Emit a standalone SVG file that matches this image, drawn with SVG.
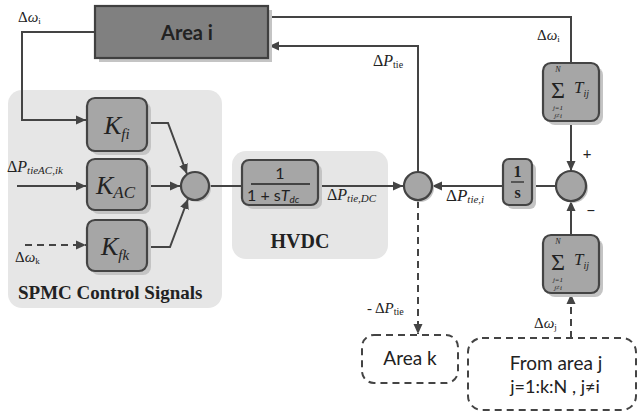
<svg xmlns="http://www.w3.org/2000/svg" width="640" height="412" viewBox="0 0 640 412">
<style>
.bg{fill:#e6e6e6;stroke:none}
.blk{fill:#a6a6a6;stroke:#444;stroke-width:2.2}
.shd{fill:#c4c4c4;stroke:none}
.sum{fill:#a6a6a6;stroke:#444;stroke-width:2.2}
.ln{fill:none;stroke:#444;stroke-width:2}
.dash{fill:none;stroke:#444;stroke-width:2;stroke-dasharray:7,5}
.sn{font-family:Lato,"Liberation Sans",sans-serif;fill:#222}
.sr{font-family:"Liberation Serif","Times New Roman",Tinos,"DejaVu Serif","Noto Serif",Times,serif;fill:#222}
</style>
<defs>
<marker id="ah" markerUnits="userSpaceOnUse" markerWidth="11" markerHeight="10" refX="10" refY="5" orient="auto">
<path d="M0,0.5 L10,5 L0,9.5 z" fill="#444"/>
</marker>
</defs>

<rect class="bg" x="8" y="90" width="214" height="218" rx="14"/>
<rect class="bg" x="232" y="151" width="156" height="108" rx="14"/>

<g id="connectors">
<path class="ln" d="M268,17 H571 V63"/>
<path class="ln" d="M571,121 V171" marker-end="url(#ah)"/>
<path class="ln" d="M571,235 V201" marker-end="url(#ah)"/>
<path class="ln" d="M556,186 H532"/>
<path class="ln" d="M503,186 H432" marker-end="url(#ah)"/>
<path class="ln" d="M418,172 V46 H269" marker-end="url(#ah)"/>
<path class="ln" d="M318,186 H403" marker-end="url(#ah)"/>
<path class="ln" d="M209,186 H242"/>
<path class="ln" d="M147,186 H180" marker-end="url(#ah)"/>
<path class="ln" d="M147,123 H168 L187,174" marker-end="url(#ah)"/>
<path class="ln" d="M147,247 H170 L188,199" marker-end="url(#ah)"/>
<path class="ln" d="M95,32 H22 V120 H86" marker-end="url(#ah)"/>
<path class="ln" d="M17,186 H86" marker-end="url(#ah)"/>
<path class="dash" d="M25,245 H86" marker-end="url(#ah)"/>
<path class="dash" d="M418,201 V334" marker-end="url(#ah)"/>
<path class="dash" d="M571,338 V294" marker-end="url(#ah)"/>
</g>

<g id="area-i">
<rect class="shd" x="99" y="10" width="173" height="52"/>
<rect x="95" y="6" width="173" height="52" fill="#808080" stroke="#404040" stroke-width="2.2"/>
<text class="sn" x="187" y="40" font-size="20" font-weight="bold" text-anchor="middle">Area i</text>
</g>

<g id="kfi">
<rect class="shd" x="91" y="102" width="60" height="53" rx="8"/>
<rect class="blk" x="87" y="98" width="60" height="53" rx="8"/>
<text class="sr" x="104" y="134" font-size="26" font-style="italic">K<tspan font-size="15" dy="5">fi</tspan></text>
</g>

<g id="kac">
<rect class="shd" x="91" y="163" width="60" height="51" rx="8"/>
<rect class="blk" x="87" y="159" width="60" height="51" rx="8"/>
<text class="sr" x="96" y="194" font-size="26" font-style="italic">K<tspan font-size="17" dy="4">AC</tspan></text>
</g>

<g id="kfk">
<rect class="shd" x="91" y="224" width="60" height="51" rx="8"/>
<rect class="blk" x="87" y="220" width="60" height="51" rx="8"/>
<text class="sr" x="101" y="255" font-size="26" font-style="italic">K<tspan font-size="15" dy="5">fk</tspan></text>
</g>

<g id="sum1">
<circle cx="197" cy="188" r="14" class="shd"/>
<circle cx="195" cy="186" r="14" class="sum"/>
</g>

<g id="hvdc-tf">
<rect class="shd" x="246" y="164" width="76" height="45" rx="7"/>
<rect class="blk" x="242" y="160" width="76" height="45" rx="7"/>
<text class="sn" x="280" y="179" font-size="16" text-anchor="middle">1</text>
<line x1="251" y1="184" x2="310" y2="184" stroke="#222" stroke-width="1.3"/>
<text class="sn" x="247" y="201" font-size="16">1 + s<tspan font-style="italic">T</tspan><tspan font-size="10" dy="2" font-style="italic">dc</tspan></text>
</g>

<g id="sum2">
<circle cx="420" cy="188" r="14" class="shd"/>
<circle cx="418" cy="186" r="14" class="sum"/>
</g>

<g id="integrator">
<rect class="shd" x="507" y="163" width="29" height="46" rx="6"/>
<rect class="blk" x="503" y="159" width="29" height="46" rx="6"/>
<text class="sr" x="517.5" y="177" font-size="16" font-weight="bold" text-anchor="middle">1</text>
<line x1="511" y1="182" x2="524" y2="182" stroke="#222" stroke-width="1.2"/>
<text class="sr" x="517.5" y="198" font-size="16" font-weight="bold" text-anchor="middle">s</text>
</g>

<g id="sum3">
<circle cx="573" cy="188" r="15" class="shd"/>
<circle cx="571" cy="186" r="15" class="sum"/>
</g>

<g id="sigma-top">
<rect class="shd" x="547" y="67" width="56" height="58" rx="8"/>
<rect class="blk" x="543" y="63" width="56" height="58" rx="8"/>
<text class="sr" x="558" y="72" font-size="8" font-style="italic" text-anchor="middle">N</text>
<text class="sr" x="558" y="98" font-size="24" text-anchor="middle">Σ</text>
<text class="sr" x="558" y="110" font-size="7" font-style="italic" text-anchor="middle">j=1</text>
<text class="sr" x="558" y="118" font-size="7" font-style="italic" text-anchor="middle">j≠i</text>
<text class="sr" x="574" y="93" font-size="17" font-style="italic">T<tspan font-size="10" dy="4">ij</tspan></text>
</g>

<g id="sigma-bottom">
<rect class="shd" x="547" y="239" width="56" height="58" rx="8"/>
<rect class="blk" x="543" y="235" width="56" height="58" rx="8"/>
<text class="sr" x="558" y="244" font-size="8" font-style="italic" text-anchor="middle">N</text>
<text class="sr" x="558" y="270" font-size="24" text-anchor="middle">Σ</text>
<text class="sr" x="558" y="282" font-size="7" font-style="italic" text-anchor="middle">j=1</text>
<text class="sr" x="558" y="290" font-size="7" font-style="italic" text-anchor="middle">j≠i</text>
<text class="sr" x="574" y="265" font-size="17" font-style="italic">T<tspan font-size="10" dy="4">ij</tspan></text>
</g>

<g id="labels">
<text class="sr" x="18" y="22" font-size="15">Δ<tspan font-style="italic">ω</tspan><tspan font-size="9" dy="2">i</tspan></text>
<text class="sr" x="537" y="40" font-size="15">Δ<tspan font-style="italic">ω</tspan><tspan font-size="9" dy="2">i</tspan></text>
<text class="sr" x="373" y="66" font-size="16">Δ<tspan font-style="italic">P</tspan><tspan font-size="10" dy="2">tie</tspan></text>
<text class="sr" x="7" y="172" font-size="16">Δ<tspan font-style="italic">P</tspan><tspan font-size="11" dy="2" font-style="italic">tieAC,ik</tspan></text>
<text class="sr" x="15" y="262" font-size="15">Δ<tspan font-style="italic">ω</tspan><tspan font-size="9" dy="2">k</tspan></text>
<text class="sr" x="327" y="200" font-size="16">Δ<tspan font-style="italic">P</tspan><tspan font-size="11" dy="2" font-style="italic">tie,DC</tspan></text>
<text class="sr" x="446" y="201" font-size="17">Δ<tspan font-style="italic">P</tspan><tspan font-size="11" dy="2" font-style="italic">tie,i</tspan></text>
<text class="sr" x="300" y="248" font-size="20" font-weight="bold" text-anchor="middle">HVDC</text>
<text class="sr" x="18" y="299" font-size="19" font-weight="bold">SPMC Control Signals</text>
<text class="sr" x="367" y="313" font-size="15">- Δ<tspan font-style="italic">P</tspan><tspan font-size="10" dy="2">tie</tspan></text>
<text class="sr" x="534" y="328" font-size="15">Δ<tspan font-style="italic">ω</tspan><tspan font-size="9" dy="2">j</tspan></text>
</g>

<g id="signs">
<text class="sn" x="587" y="159" font-size="15" text-anchor="middle">+</text>
<text class="sn" x="591" y="216" font-size="16" text-anchor="middle">−</text>
</g>

<g id="area-k">
<rect class="dash" x="362" y="335" width="96" height="48" rx="12"/>
<text class="sn" x="410" y="365" font-size="19" text-anchor="middle">Area k</text>
</g>

<g id="from-area-j">
<rect class="dash" x="468" y="338" width="168" height="72" rx="14"/>
<text class="sn" x="556" y="370" font-size="19" text-anchor="middle">From area j</text>
<text class="sn" x="555" y="393" font-size="18" text-anchor="middle">j=1:k:N , j≠i</text>
</g>
</svg>
